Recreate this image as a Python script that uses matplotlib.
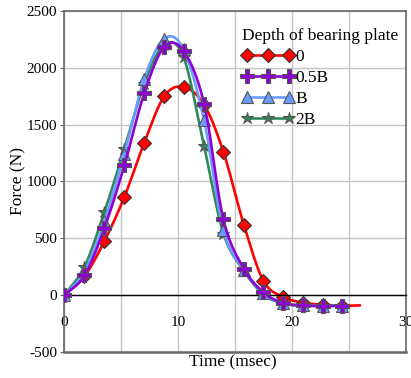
import numpy as np
import matplotlib.pyplot as plt

plt.rcParams['font.family'] = ['Liberation Serif', 'DejaVu Serif']
plt.rcParams['axes.unicode_minus'] = False

# impact load history for each bearing plate depth
time_ms = [0, 1.8, 3.55, 5.3, 7.05, 8.8, 10.5, 12.3, 14.0, 15.8, 17.5, 19.2, 20.95, 22.7, 24.4]
force_0 = [0, 167, 477, 864, 1341, 1748, 1830, 1675, 1259, 618, 129, -12, -64, -82, -91]
force_05b = [0, 175, 591, 1142, 1777, 2181, 2146, 1683, 667, 234, 29, -67, -88, -94, -91]
force_b = [0, 210, 650, 1244, 1903, 2254, 2160, 1537, 571, 225, 20, -70, -88, -92, -91]
force_2b = [0, 252, 732, 1288, 1860, 2200, 2093, 1309, 542, 215, 10, -72, -90, -93, -91]
# the 0 series trace continues past its last marker
tail_t = [26.0]
tail_0 = [-88]

labels = ['0', '0.5B', 'B', '2B']


def smooth(x, y, n=24):
    # Catmull-Rom style curve through the points (like a spreadsheet "smoothed line")
    x = np.asarray(x, float)
    y = np.asarray(y, float)
    px = np.concatenate([[2 * x[0] - x[1]], x, [2 * x[-1] - x[-2]]])
    py = np.concatenate([[2 * y[0] - y[1]], y, [2 * y[-1] - y[-2]]])
    xs, ys = [], []
    s = np.linspace(0, 1, n, endpoint=False)
    for i in range(1, len(px) - 2):
        x0, x1, x2, x3 = px[i - 1:i + 3]
        y0, y1, y2, y3 = py[i - 1:i + 3]
        cx1, cy1 = x1 + (x2 - x0) / 6, y1 + (y2 - y0) / 6
        cx2, cy2 = x2 - (x3 - x1) / 6, y2 - (y3 - y1) / 6
        b0, b1, b2, b3 = (1 - s) ** 3, 3 * s * (1 - s) ** 2, 3 * s ** 2 * (1 - s), s ** 3
        xs.append(b0 * x1 + b1 * cx1 + b2 * cx2 + b3 * x2)
        ys.append(b0 * y1 + b1 * cy1 + b2 * cy2 + b3 * y2)
    xs.append([x[-1]])
    ys.append([y[-1]])
    return np.concatenate(xs), np.concatenate(ys)


fig = plt.figure(figsize=(4.11, 3.78), dpi=100)
ax = fig.add_axes([0.1557, 0.068, 0.8313, 0.9037])

series = [
    (time_ms + tail_t, force_0 + tail_0, '#ff0000', 'D', 7.5, 2),
    (time_ms, force_05b, '#8f00d6', 'P', 10, 5),
    (time_ms, force_b, '#6a9cff', '^', 8, 4),
    (time_ms, force_2b, '#2e8b57', '*', 9, 3),
]

handles = []
for (tx, fy, col, mk, ms, z), lab in zip(series, labels):
    sx, sy = smooth(tx, fy)
    edge = '#333333' if mk == 'D' else '#555555'
    ax.plot(sx, sy, color=col, lw=1.9, zorder=z, solid_capstyle='round')
    ax.plot(time_ms, fy[:len(time_ms)], ls='none', marker=mk, ms=ms, mfc=col,
            mec=edge, mew=0.8, zorder=z + 0.5)
    h, = ax.plot([], [], color=col, lw=1.9, marker=mk, ms=ms, mfc=col,
                 mec=edge, mew=0.8, label=lab)
    handles.append(h)

ax.set_xlim(0, 30)
ax.set_ylim(-500, 2500)
ax.set_xticks([0, 10, 20, 30])
ax.set_xticks([5, 15, 25], minor=True)
ax.set_yticks(range(-500, 2501, 500))
ax.grid(True, which='both', color='#c4c4c4', lw=1, zorder=0)
ax.set_axisbelow(True)

ax.spines['bottom'].set_position(('data', 0))
ax.spines['bottom'].set_color('black')
ax.spines['bottom'].set_linewidth(1)
for side in ['left', 'top', 'right']:
    ax.spines[side].set_color('#666666')
    ax.spines[side].set_linewidth(1.2)
ax.axhline(-500, color='#666666', lw=1.8, clip_on=False, zorder=5)

ax.tick_params(axis='x', which='both', length=0, pad=15, labelsize=11)
ax.tick_params(axis='y', length=3, color='#666666', labelsize=11, pad=2)

fig.text(0.567, 0.042, 'Time (msec)', ha='center', va='center', fontsize=12.5)
fig.text(0.045, 0.52, 'Force (N)', ha='center', va='center', fontsize=12.5, rotation=90)

leg = ax.legend(handles=handles, loc='upper right', bbox_to_anchor=(1.008, 0.98),
                frameon=False, numpoints=3, handlelength=3.0, handletextpad=0.1,
                labelspacing=0.28, fontsize=12.5, title='Depth of bearing plate',
                title_fontsize=12.5, alignment='left', borderaxespad=0.2)

fig.savefig('out.png', dpi=100)
